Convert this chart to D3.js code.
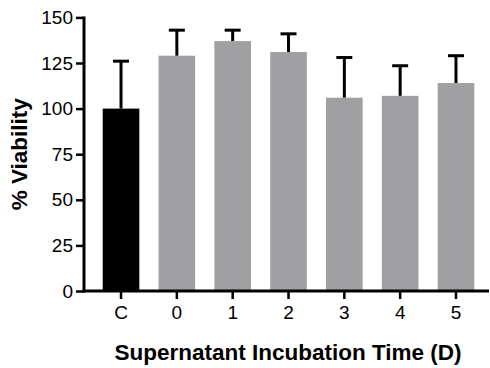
<!DOCTYPE html>
<html>
<head>
<meta charset="utf-8">
<script src="https://cdn.jsdelivr.net/npm/d3@7.9.0/dist/d3.min.js"></script>
<style>
  html, body { margin: 0; padding: 0; background: #fff; }
  svg text { font-family: "Liberation Sans", Arial, sans-serif; }
</style>
</head>
<body>
<div id="chart"></div>
<script>
// data
const groups = ['C', '0', '1', '2', '3', '4', '5'];
const viability = [100, 129, 137, 131, 106, 107, 114];
const errorTop = [126, 143, 143, 141, 128, 123.5, 129];
const yTicks = [0, 25, 50, 75, 100, 125, 150];

const width = 490, height = 368;
const axisLeftX = 84, axisEndX = 489;
const y0 = 291, yTop = 17.4;

const svg = d3.select('#chart').append('svg')
  .attr('width', width)
  .attr('height', height);

const x = d3.scaleBand()
  .domain(groups)
  .range([93.1, 483.9])
  .paddingInner(0.344)
  .paddingOuter(0.172);

const y = d3.scaleLinear()
  .domain([0, 150])
  .range([y0, yTop]);

const rows = groups.map((g, i) => ({ g, v: viability[i], e: errorTop[i] }));

// bars
svg.selectAll('rect.bar')
  .data(rows)
  .join('rect')
  .attr('class', 'bar')
  .attr('x', d => x(d.g))
  .attr('y', d => y(d.v))
  .attr('width', x.bandwidth())
  .attr('height', d => y0 - y(d.v))
  .attr('fill', d => d.g === 'C' ? '#000' : '#a0a0a3');

// error bars (upper only)
const eb = svg.append('g').attr('stroke', '#000').attr('stroke-width', 3);
eb.selectAll('line.stem')
  .data(rows)
  .join('line')
  .attr('x1', d => x(d.g) + x.bandwidth() / 2)
  .attr('x2', d => x(d.g) + x.bandwidth() / 2)
  .attr('y1', d => y(d.v))
  .attr('y2', d => y(d.e));
eb.selectAll('line.cap')
  .data(rows)
  .join('line')
  .attr('x1', d => x(d.g) + x.bandwidth() / 2 - 8)
  .attr('x2', d => x(d.g) + x.bandwidth() / 2 + 8)
  .attr('y1', d => y(d.e))
  .attr('y2', d => y(d.e));

// y axis
const yAxis = svg.append('g')
  .attr('transform', `translate(${axisLeftX},0)`)
  .call(d3.axisLeft(y).tickValues(yTicks).tickSize(8).tickPadding(3));
yAxis.select('.domain').remove();
yAxis.selectAll('.tick line').attr('stroke', '#000').attr('stroke-width', 2.5);
yAxis.selectAll('text').attr('fill', '#000').style('font-size', '19px');

// x axis
const xAxis = svg.append('g')
  .attr('transform', `translate(0,${y0})`)
  .call(d3.axisBottom(x).tickSize(8).tickPadding(7));
xAxis.select('.domain').remove();
xAxis.selectAll('.tick line').attr('stroke', '#000').attr('stroke-width', 2.5);
xAxis.selectAll('text').attr('fill', '#000').style('font-size', '19px');

// axis lines
svg.append('line')
  .attr('x1', axisLeftX).attr('x2', axisLeftX)
  .attr('y1', y(150) - 1).attr('y2', y0 + 1.5)
  .attr('stroke', '#000').attr('stroke-width', 3);
svg.append('line')
  .attr('x1', axisLeftX - 1.5).attr('x2', axisEndX)
  .attr('y1', y0).attr('y2', y0)
  .attr('stroke', '#000').attr('stroke-width', 3);

// titles
svg.append('text')
  .attr('x', 288)
  .attr('y', 360)
  .attr('text-anchor', 'middle')
  .style('font-size', '22.5px')
  .style('font-weight', 'bold')
  .text('Supernatant Incubation Time (D)');

svg.append('text')
  .attr('transform', `translate(27,${(y0 + yTop) / 2}) rotate(-90)`)
  .attr('text-anchor', 'middle')
  .style('font-size', '22.5px')
  .style('font-weight', 'bold')
  .text('% Viability');
</script>
</body>
</html>
